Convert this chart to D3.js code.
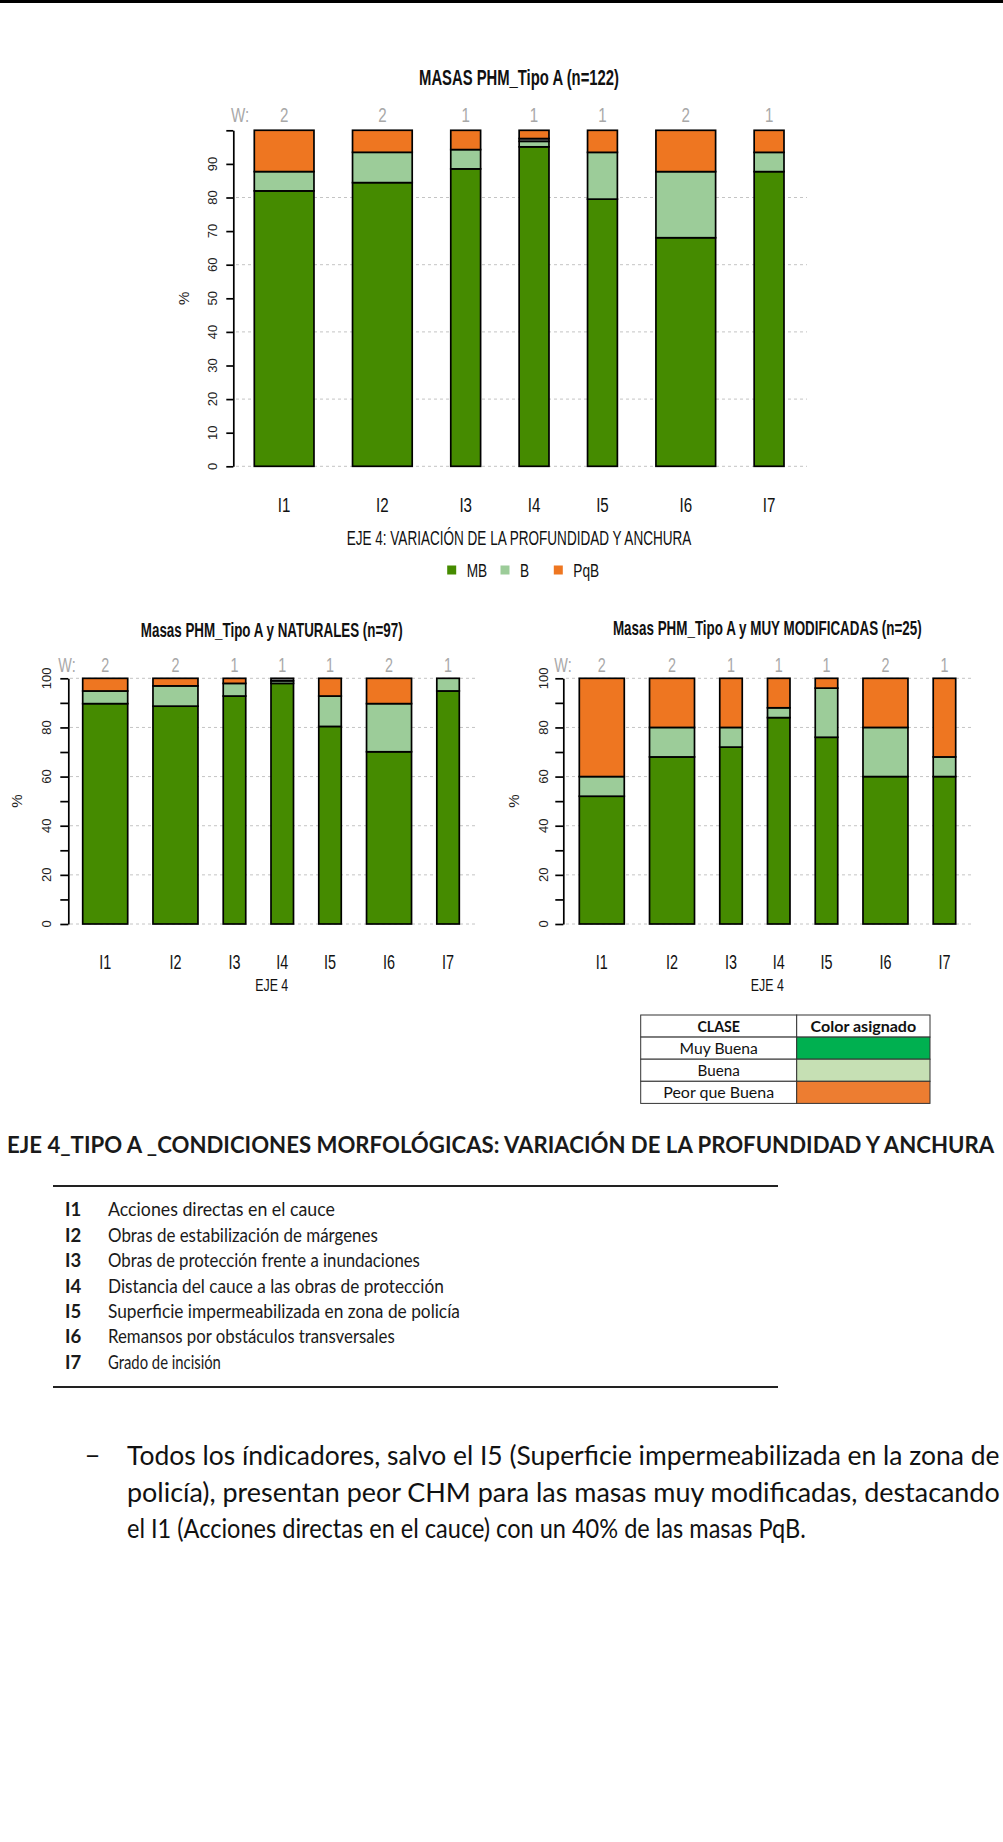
<!DOCTYPE html>
<html>
<head>
<meta charset="utf-8">
<script src="https://cdn.jsdelivr.net/npm/d3@7"></script>
<style>
  html, body { margin: 0; padding: 0; background: #fff; }
  svg { display: block; }
</style>
</head>
<body>
<svg id="page" width="1003" height="1842"></svg>
<script>
// ---- data ---------------------------------------------------------------
const indicators = ["I1", "I2", "I3", "I4", "I5", "I6", "I7"];
const weights = [2, 2, 1, 1, 1, 2, 1];
const classKeys = ["MB", "B", "SD", "PqB"];
const legendKeys = ["MB", "B", "PqB"];

// all Tipo A water bodies (n=122), % per class
const totalMB  = [81.97, 84.43, 88.52, 95.08, 79.51, 68.03, 87.70];
const totalB   = [5.74, 9.02, 5.74, 1.64, 13.93, 19.67, 5.74];
const totalSD  = [0, 0, 0, 0.82, 0, 0, 0];
const totalPqB = [12.30, 6.56, 5.74, 2.46, 6.56, 12.30, 6.56];

// natural water bodies (n=97)
const natMB  = [89.69, 88.66, 92.78, 97.94, 80.41, 70.10, 94.85];
const natB   = [5.15, 8.25, 5.15, 1.03, 12.37, 19.59, 5.15];
const natSD  = [0, 0, 0, 1.03, 0, 0, 0];
const natPqB = [5.15, 3.09, 2.06, 0, 7.22, 10.31, 0];

// heavily modified water bodies (n=25)
const modMB  = [52, 68, 72, 84, 76, 60, 60];
const modB   = [8, 12, 8, 4, 20, 20, 8];
const modSD  = [0, 0, 0, 0, 0, 0, 0];
const modPqB = [40, 20, 20, 12, 4, 20, 32];

const tableClasses = ["Muy Buena", "Buena", "Peor que Buena"];
const tableColors = ["#00b050", "#c6e0b4", "#ed7d31"];

const indicatorNames = [
  "Acciones directas en el cauce",
  "Obras de estabilización de márgenes",
  "Obras de protección frente a inundaciones",
  "Distancia del cauce a las obras de protección",
  "Superficie impermeabilizada en zona de policía",
  "Remansos por obstáculos transversales",
  "Grado de incisión"
];
const commentLines = [
  "Todos los índicadores, salvo el I5 (Superficie impermeabilizada en la zona de",
  "policía), presentan peor CHM para las masas muy modificadas, destacando",
  "el I1 (Acciones directas en el cauce) con un 40% de las masas PqB."
];

// ---- styles -------------------------------------------------------------
const colors = { MB: "#458b00", B: "#9ccc99", SD: "#808080", PqB: "#ee7621" };
const RFONT = "'Liberation Sans',Arial,sans-serif";
const DOC = "Lato,'Open Sans','Noto Sans',sans-serif";
const SQ = 0.72; // horizontal compression of the plot lettering

const svg = d3.select("#page");
svg.append("rect").attr("width", 1003).attr("height", 1842).attr("fill", "#fff");
svg.append("rect").attr("x", 0).attr("y", 0).attr("width", 1003).attr("height", 3).attr("fill", "#000");

// text placed at (x, y) and squeezed horizontally, either by a fixed factor
// or so that it spans a given width
function placeText(g, x, y, txt, o = {}) {
  const t = g.append("text")
    .attr("text-anchor", o.anchor || "middle").attr("dy", o.dy || "0.35em")
    .attr("font-family", o.family || RFONT).attr("font-size", o.size || 16)
    .attr("font-weight", o.bold ? "bold" : "normal")
    .attr("fill", o.fill || "#111").text(txt);
  let k = o.sx || 1;
  if (o.width) {
    const natural = t.node().getComputedTextLength();
    if (natural > 0) k = o.width / natural;
  }
  t.attr("transform", `translate(${x},${y}) scale(${k},1)`);
  return t;
}

function rowsFrom(mb, b, sd, pqb) {
  return indicators.map((id, i) => ({ id, w: weights[i], MB: mb[i], B: b[i], SD: sd[i], PqB: pqb[i] }));
}

function drawChart(o) {
  const g = svg.append("g");
  const rows = rowsFrom(...o.series);
  const y = d3.scaleLinear().domain([0, 100]).range([o.y0, o.y100]);

  // bar offsets in width units (gap o.space between bars)
  let acc = 0;
  const lefts = weights.map((w, i) => { const l = acc; acc += w + (i < weights.length - 1 ? o.space : 0); return l; });
  const x = d3.scaleLinear().domain([0, acc]).range([o.xStart, o.xEnd]);
  const cx = i => x(lefts[i] + weights[i] / 2);

  // grid
  g.append("g").selectAll("line").data(o.grid).join("line")
    .attr("x1", o.gridX1).attr("x2", o.gridX2)
    .attr("y1", d => y(d)).attr("y2", d => y(d))
    .attr("stroke", "#c4c4c4").attr("stroke-width", 1).attr("stroke-dasharray", "3,3");

  // stacked bars
  const stack = d3.stack().keys(classKeys)(rows);
  g.append("g").selectAll("g").data(stack).join("g")
    .attr("fill", s => colors[s.key])
    .selectAll("rect").data(s => s.map((d, i) => ({ d, i })).filter(e => e.d[1] - e.d[0] > 0)).join("rect")
    .attr("x", e => x(lefts[e.i]))
    .attr("width", e => x(lefts[e.i] + weights[e.i]) - x(lefts[e.i]))
    .attr("y", e => y(e.d[1]))
    .attr("height", e => y(e.d[0]) - y(e.d[1]))
    .attr("stroke", "#000").attr("stroke-width", 1.7);

  // y axis
  const ax = g.append("g").attr("transform", `translate(${o.axisX},0)`)
    .call(d3.axisLeft(y).tickValues(d3.range(0, 101, 10)).tickSize(o.tick).tickSizeOuter(0).tickFormat(""));
  ax.selectAll("path, line").attr("stroke", "#000").attr("stroke-width", 1.7);

  g.append("g").selectAll("text").data(o.labels).join("text")
    .attr("transform", d => `translate(${o.labelX},${y(d)}) rotate(-90)`)
    .attr("text-anchor", "middle").attr("dy", "0.35em")
    .attr("font-family", RFONT).attr("font-size", o.tickFont).attr("fill", "#222")
    .text(d => d);

  g.append("text")
    .attr("transform", `translate(${o.pctX},${(y(0) + y(100)) / 2}) rotate(-90)`)
    .attr("text-anchor", "middle").attr("dy", "0.35em")
    .attr("font-family", RFONT).attr("font-size", o.tickFont + 2).attr("fill", "#222").text("%");

  // weights row
  placeText(g, o.wLabelX, o.wY, "W:", { size: o.wFont, sx: SQ, fill: "#a8a8a8" });
  rows.forEach((d, i) => placeText(g, cx(i), o.wY, d.w, { size: o.wFont, sx: SQ, fill: "#a8a8a8" }));

  // category labels
  rows.forEach((d, i) => placeText(g, cx(i), o.catY, d.id, { size: o.catFont, sx: SQ }));

  // titles
  placeText(g, o.titleX, o.titleY, o.title, { size: o.titleFont, bold: true, width: o.titleLen });
  placeText(g, o.titleX, o.xTitleY, o.xTitle, { size: o.xTitleFont, width: o.xTitleLen });

  return g;
}

// top chart: all water bodies
drawChart({
  series: [totalMB, totalB, totalSD, totalPqB],
  y0: 466.3, y100: 130.3, xStart: 254.3, xEnd: 784, space: 1.292,
  grid: [0, 20, 40, 60, 80], gridX1: 236, gridX2: 807,
  axisX: 233.3, tick: 7, labels: [0, 10, 20, 30, 40, 50, 60, 70, 80, 90], labelX: 212, tickFont: 13,
  pctX: 183.3,
  wLabelX: 240, wY: 115, wFont: 21,
  catY: 505, catFont: 21,
  titleX: 519, titleY: 77, titleFont: 22, titleLen: 200, title: "MASAS PHM_Tipo A (n=122)",
  xTitleY: 538, xTitleFont: 21, xTitleLen: 345, xTitle: "EJE 4: VARIACIÓN DE LA PROFUNDIDAD Y ANCHURA"
});

// legend of the top chart
const legend = svg.append("g");
legendKeys.forEach((k, i) => {
  const lx = 451.7 + i * 53.3;
  legend.append("rect").attr("x", lx - 4.5).attr("y", 565.5).attr("width", 9).attr("height", 9).attr("fill", colors[k]);
  placeText(legend, lx + 15, 570, k, { size: 19, sx: SQ, anchor: "start" });
});

// bottom-left: natural
drawChart({
  series: [natMB, natB, natSD, natPqB],
  y0: 924, y100: 678.3, xStart: 82.7, xEnd: 459.3, space: 1.123,
  grid: [0, 20, 40, 60, 80, 100], gridX1: 70, gridX2: 475,
  axisX: 68.3, tick: 8, labels: [0, 20, 40, 60, 80, 100], labelX: 46.7, tickFont: 13,
  pctX: 16.7,
  wLabelX: 67, wY: 665, wFont: 20,
  catY: 961.7, catFont: 20,
  titleX: 271.7, titleY: 630, titleFont: 20, titleLen: 262, title: "Masas PHM_Tipo A y NATURALES (n=97)",
  xTitleY: 985, xTitleFont: 17, xTitleLen: 33, xTitle: "EJE 4"
});

// bottom-right: heavily modified
drawChart({
  series: [modMB, modB, modSD, modPqB],
  y0: 924, y100: 678.3, xStart: 579.3, xEnd: 955.7, space: 1.123,
  grid: [0, 20, 40, 60, 80, 100], gridX1: 566, gridX2: 971,
  axisX: 563.3, tick: 8, labels: [0, 20, 40, 60, 80, 100], labelX: 543.3, tickFont: 13,
  pctX: 513.3,
  wLabelX: 563, wY: 665, wFont: 20,
  catY: 961.7, catFont: 20,
  titleX: 767.3, titleY: 628.3, titleFont: 20, titleLen: 309, title: "Masas PHM_Tipo A y MUY MODIFICADAS (n=25)",
  xTitleY: 985, xTitleFont: 17, xTitleLen: 33, xTitle: "EJE 4"
});

// ---- class / colour table ------------------------------------------------
const tbl = svg.append("g").attr("transform", "translate(640.7,1015)");
const colW = [156, 133.3], rowH = 22.1;
const tRows = [{ a: "CLASE", la: 42.7, b: "Color asignado", lb: 105.7, head: true }]
  .concat(tableClasses.map((c, i) => ({ a: c, la: [78.3, 42.3, 111][i], fill: tableColors[i] })));
tRows.forEach((r, i) => {
  const ty = i * rowH;
  tbl.append("rect").attr("x", 0).attr("y", ty).attr("width", colW[0]).attr("height", rowH)
    .attr("fill", "#fff").attr("stroke", "#333").attr("stroke-width", 1);
  tbl.append("rect").attr("x", colW[0]).attr("y", ty).attr("width", colW[1]).attr("height", rowH)
    .attr("fill", r.fill || "#fff").attr("stroke", "#333").attr("stroke-width", 1);
  placeText(tbl, colW[0] / 2, ty + rowH / 2, r.a,
    { family: DOC, size: 16, bold: !!r.head, width: r.la, dy: "0.36em" });
  if (r.head) {
    placeText(tbl, colW[0] + colW[1] / 2, ty + rowH / 2, r.b,
      { family: DOC, size: 16, bold: true, width: r.lb, dy: "0.36em" });
  }
});

// ---- heading, indicator list and comment ---------------------------------
placeText(svg, 7, 1145, "EJE 4_TIPO A _CONDICIONES MORFOLÓGICAS: VARIACIÓN DE LA PROFUNDIDAD Y ANCHURA",
  { family: DOC, size: 22, bold: true, width: 988, anchor: "start", fill: "#1a1a1a" });

const nameLens = [227, 270, 312, 336, 352, 287, 113];
const list = svg.append("g");
list.append("line").attr("x1", 53).attr("x2", 778).attr("y1", 1186).attr("y2", 1186).attr("stroke", "#222").attr("stroke-width", 2);
list.append("line").attr("x1", 53).attr("x2", 778).attr("y1", 1387).attr("y2", 1387).attr("stroke", "#222").attr("stroke-width", 2);
indicators.forEach((id, i) => {
  const by = 1210 + i * 25.4;
  placeText(list, 65, by, id, { family: DOC, size: 18.5, bold: true, anchor: "start", fill: "#1a1a1a" });
  placeText(list, 108, by, indicatorNames[i], { family: DOC, size: 18.5, anchor: "start", width: nameLens[i], fill: "#1a1a1a" });
});

const lineLens = [873, 873, 679];
const note = svg.append("g");
placeText(note, 85, 1456, "−", { family: DOC, size: 26, anchor: "start" });
commentLines.forEach((t, i) => {
  placeText(note, 127, 1456 + i * 36.5, t, { family: DOC, size: 26, anchor: "start", width: lineLens[i] });
});
</script>
</body>
</html>
